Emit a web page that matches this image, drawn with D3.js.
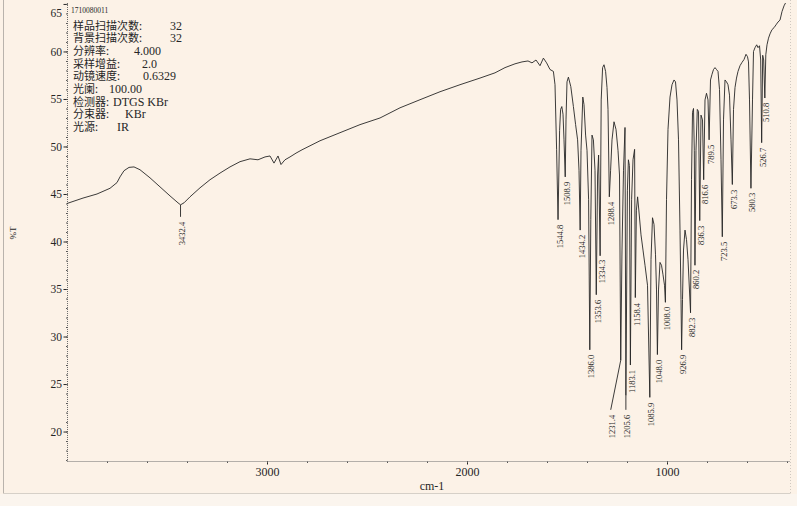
<!DOCTYPE html>
<html><head><meta charset="utf-8">
<script src="https://cdn.jsdelivr.net/npm/d3@7"></script>
<style>
html,body{margin:0;padding:0;background:#fcf2e7;}
svg{display:block;}
</style></head><body>
<svg id="c" width="797" height="506"></svg>
<script>
// ---------- DATA ----------
const wavenumbers = [4000,3920,3850,3785,3750,3735,3715,3690,3665,3635,3585,3535,3485,3445,3432.4,3415,3385,3335,3285,3235,3185,3135,3085,3045,3010,2985,2965,2945,2930,2910,2885,2855,2825,2735,2635,2535,2435,2335,2235,2135,2035,1935,1860,1810,1760,1725,1695,1675,1655,1635,1618,1602,1585,1568,1560,1552,1544.8,1537,1532,1526,1520,1515,1508.9,1505,1500,1493,1481,1468,1457,1447,1440,1434.2,1430,1421,1415,1407,1400,1392,1386.0,1381,1375,1368,1360,1353.6,1347,1342,1334.3,1329,1322,1315,1307,1300,1295,1288.4,1282,1275,1265,1255,1245,1237.5,1231.4,1225,1217.5,1210,1205.6,1198,1193,1188,1183.1,1177,1170,1162,1158.4,1153,1147,1140,1130,1120,1110,1097.5,1085.9,1080,1072.5,1065,1057.5,1052.5,1048.0,1042.5,1035,1027.5,1020,1012.5,1008.0,1002.5,995,985,975,965,957.5,950,942.5,935,930,926.9,922.5,917.5,910,902.5,895,882.3,877.5,872.5,867.5,863.5,860.2,855,848.5,842.5,836.3,830,822.5,816.6,810,802.5,795,789.5,782.5,775,767.5,760,752.5,745,737.5,730,723.5,717.5,710,702.5,695,687.5,680,673.3,667.5,660,652.5,645,635,625,615,605,597.5,592.5,587.5,580.3,572.5,567.5,560,551.5,545,537.5,531.5,526.7,521.5,516.5,510.8,506,500,492.5,485,475,465,455,445,435,425,415,405,400];
const transmittance = [44.0,44.57,45.0,45.6,46.2,46.8,47.45,47.8,47.85,47.55,46.7,45.75,44.8,44.07,43.86,44.07,44.7,45.65,46.5,47.2,47.85,48.4,48.7,48.6,48.9,49.0,48.25,49.0,48.1,48.6,48.9,49.3,49.65,50.6,51.45,52.3,53.0,54.07,54.92,55.76,56.5,57.2,57.75,58.3,58.7,58.9,59.0,58.8,59.1,58.5,59.3,58.8,58.1,57.9,56.5,49.7,42.3,51.7,53.9,54.2,53.4,50.7,46.8,52.8,56.8,57.3,56.3,54.2,52.3,50.7,47.5,41.2,49.6,55.2,54.4,51.2,49.6,44.4,28.6,42.3,51.2,50.7,47.5,34.4,47.0,49.1,38.5,54.9,58.3,58.6,57.9,56.2,53.9,44.7,47.5,50.7,52.6,51.8,49.6,47.0,27.5,39.1,47.5,52.0,23.8,45.4,48.6,48.0,27.0,44.4,48.6,49.7,34.1,43.3,44.7,43.1,40.7,39.1,37.5,35.4,23.6,38.1,42.5,41.8,38.6,34.9,28.1,34.9,37.8,37.5,36.5,35.4,33.6,44.4,51.8,55.2,56.5,57.0,56.8,54.9,50.7,41.2,33.9,28.6,33.9,39.1,41.2,40.2,38.1,32.5,46.5,53.6,54.0,49.6,37.5,49.6,53.9,53.7,42.2,53.3,52.8,46.5,54.9,55.6,54.9,50.7,57.0,57.6,58.1,58.3,58.1,57.9,56.0,48.6,40.5,52.8,57.0,56.8,56.5,55.4,50.7,46.0,53.9,56.2,57.2,57.9,58.5,58.85,59.15,59.7,59.45,58.9,54.9,45.6,54.9,60.0,60.4,60.7,60.4,60.6,59.1,50.4,59.6,59.1,55.1,59.65,60.7,61.4,61.85,62.3,62.5,62.8,63.1,63.3,64.2,64.8,65.2,65.4];

const peakLabels = ["3432.4","1544.8","1508.9","1434.2","1386.0","1353.6","1334.3","1288.4","1231.4","1205.6","1183.1","1158.4","1085.9","1048.0","1008.0","926.9","882.3","860.2","836.3","816.6","789.5","723.5","673.3","580.3","526.7","510.8"];
const peakWavenumbers = [3432.4,1544.8,1508.9,1434.2,1386.0,1353.6,1334.3,1288.4,1231.4,1205.6,1183.1,1158.4,1085.9,1048.0,1008.0,926.9,882.3,860.2,836.3,816.6,789.5,723.5,673.3,580.3,526.7,510.8];
const peakLabelT = [42.07,41.76,46.28,40.71,28.07,33.86,38.07,44.18,21.76,21.76,26.49,33.54,23.02,27.55,33.13,28.07,31.97,37.02,41.65,45.96,50.18,39.97,45.44,45.13,49.86,54.6];

const yTickValues = [20,25,30,35,40,45,50,55,60,65];
const xTickValues = [3000,2000,1000];
const sampleId = "1710080011";
const infoLabels = ["样品扫描次数:","背景扫描次数:","分辨率:","采样增益:","动镜速度:","光阑:","检测器:","分束器:","光源:"];
const infoValues = ["32","32","4.000","2.0","0.6329","100.00","DTGS KBr","KBr","IR"];
const xAxisTitle = "cm-1";
const yAxisTitle = "%T";

// ---------- LAYOUT ----------
const W = 797, H = 506;
const infoValueX = [170,170,134,142,143,109,113,125,117];
const labelNudge = {"1231.4": -10};
const serif = "'Liberation Serif','DejaVu Serif',serif";
const cjk = "'Noto Sans CJK SC','Noto Sans',sans-serif";
const ink = "#262626";

const x = d3.scaleLinear().domain([4000, 400]).range([67, 787]);
const y = d3.scaleLinear().domain([16.9, 65.1]).range([461, 3]);

const svg = d3.select("#c");
svg.append("rect").attr("width", W).attr("height", H).attr("fill", "#fcf2e7");
svg.append("rect").attr("x", 0).attr("y", 494).attr("width", W).attr("height", H - 494).attr("fill", "#fbf5ee");

// outer frame
const frame = svg.append("g").attr("stroke", "#b9b3ac").attr("fill", "none");
frame.append("line").attr("x1", 3.5).attr("x2", 3.5).attr("y1", 0).attr("y2", 493.5).attr("stroke-width", 1);
frame.append("line").attr("x1", 790.5).attr("x2", 790.5).attr("y1", 0).attr("y2", 493.5).attr("stroke-dasharray", "1,2").attr("stroke", "#cfc8c0");
frame.append("line").attr("x1", 3.5).attr("x2", 790.5).attr("y1", 493.5).attr("y2", 493.5).attr("stroke", "#d6d0c8");

// axes lines (dotted)
svg.append("line").attr("x1", 67.5).attr("x2", 67.5).attr("y1", y.range()[1]).attr("y2", 461.5)
  .attr("stroke", "#6d6d6d").attr("stroke-dasharray", "1,1");
svg.append("line").attr("x1", 67.5).attr("x2", 790).attr("y1", 461.5).attr("y2", 461.5)
  .attr("stroke", "#6d6d6d").attr("stroke-dasharray", "1,1");

// Y axis
const yAxis = svg.append("g").attr("transform", "translate(67.5,0)")
  .call(d3.axisLeft(y).tickValues(yTickValues).tickSize(4).tickPadding(1.5).tickFormat(d3.format("d")));
yAxis.select(".domain").remove();
yAxis.selectAll("line").attr("stroke", ink);
yAxis.selectAll("text").attr("font-family", serif).attr("font-size", 11.5).attr("fill", ink);
yAxis.selectAll(".tick").filter(d => d === 65).select("text").attr("dy", "1.05em");
const yMinor = svg.append("g").attr("transform", "translate(67.5,0)")
  .call(d3.axisLeft(y).tickValues(d3.range(17, 66)).tickSize(1.5).tickFormat(""));
yMinor.select(".domain").remove();
yMinor.selectAll("line").attr("stroke", "#555");

// X axis
const xAxis = svg.append("g").attr("transform", "translate(0,461.5)")
  .call(d3.axisBottom(x).tickValues(xTickValues).tickSize(3).tickPadding(3).tickFormat(d3.format("d")));
xAxis.select(".domain").remove();
xAxis.selectAll("line").attr("stroke", ink);
xAxis.selectAll("text").attr("font-family", serif).attr("font-size", 12).attr("fill", ink);
const xMinor = svg.append("g").attr("transform", "translate(0,461.5)")
  .call(d3.axisBottom(x).tickValues(d3.range(3800, 399, -200)).tickSize(1.5).tickFormat(""));
xMinor.select(".domain").remove();
xMinor.selectAll("line").attr("stroke", "#555");

// axis titles
svg.append("text").attr("x", 432).attr("y", 490).attr("text-anchor", "middle")
  .attr("font-family", serif).attr("font-size", 12).attr("fill", ink).text(xAxisTitle);
svg.append("text").attr("transform", "translate(13,233) rotate(-90)").attr("text-anchor", "middle")
  .attr("dy", "0.35em").attr("font-family", serif).attr("font-size", 9).attr("fill", ink).text(yAxisTitle);

// spectrum
const pts = wavenumbers.map((w, i) => [w, transmittance[i]]);
svg.append("clipPath").attr("id", "plotclip").append("rect")
  .attr("x", 67).attr("y", 3).attr("width", 723).attr("height", 458);
svg.append("path").datum(pts).attr("clip-path", "url(#plotclip)")
  .attr("fill", "none").attr("stroke", ink).attr("stroke-width", 0.9).attr("stroke-linejoin", "round")
  .attr("d", d3.line().x(d => x(d[0])).y(d => y(d[1])));

// curve value at wavenumber
function curveAt(w) {
  for (let i = 0; i < pts.length - 1; i++) {
    const a = pts[i], b = pts[i + 1];
    if (w <= a[0] && w >= b[0]) {
      const t = (a[0] - w) / (a[0] - b[0] || 1);
      return a[1] + t * (b[1] - a[1]);
    }
  }
  return pts[pts.length - 1][1];
}

// peak labels and leaders
const peaks = peakLabels.map((l, i) => ({label: l, wn: peakWavenumbers[i], t: peakLabelT[i]}));
const pg = svg.append("g");
peaks.forEach(p => {
  const nud = labelNudge[p.label] || 0;
  const x0 = x(p.wn), y0 = y(curveAt(p.wn));
  const x1 = x0 + nud, y1 = y(p.t) - 5;
  if (Math.hypot(x1 - x0, y1 - y0) > 1.5) {
    pg.append("line").attr("x1", x0).attr("y1", y0).attr("x2", x1).attr("y2", y1)
      .attr("stroke", ink).attr("stroke-width", 0.9);
  }
  pg.append("text")
    .attr("transform", `translate(${x1 + 1.5},${y(p.t)}) rotate(-90)`)
    .attr("text-anchor", "end").attr("dy", "0.35em")
    .attr("font-family", serif).attr("font-size", 8.5).attr("fill", ink)
    .text(p.label);
});

// info block
svg.append("text").attr("x", 71).attr("y", 13).attr("font-family", serif)
  .attr("font-size", 7.5).attr("fill", ink).text(sampleId);
const info = svg.append("g");
infoLabels.forEach((l, i) => {
  const by = 29.5 + i * 12.7;
  info.append("text").attr("x", 73).attr("y", by).attr("font-family", cjk)
    .attr("font-size", 11).attr("fill", ink).text(l);
  info.append("text").attr("x", infoValueX[i]).attr("y", by).attr("font-family", serif)
    .attr("font-size", 12).attr("fill", ink).text(infoValues[i]);
});
</script>
</body></html>
